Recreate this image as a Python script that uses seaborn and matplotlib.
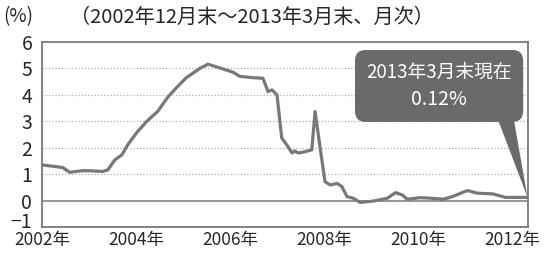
#!/usr/bin/env python3
"""
Short-term rate chart (monthly, end of Dec 2002 - end of Mar 2013)
"""

import pandas as pd
import matplotlib.pyplot as plt
from matplotlib.patches import FancyBboxPatch
from matplotlib.transforms import ScaledTranslation
import seaborn as sns

# x positions as placed on the chart's own year axis, values in %
chart_year = [2002.00, 2002.44, 2002.59, 2002.86, 2003.01, 2003.29, 2003.40, 2003.55,
              2003.70, 2003.82, 2004.01, 2004.23, 2004.46, 2004.67, 2004.86, 2005.07,
              2005.36, 2005.53, 2005.64, 2005.85, 2006.06, 2006.21, 2006.49, 2006.70,
              2006.81, 2006.89, 2007.00, 2007.10, 2007.21, 2007.32, 2007.38, 2007.45,
              2007.60, 2007.74, 2007.81, 2007.87, 2008.02, 2008.13, 2008.28, 2008.38,
              2008.49, 2008.62, 2008.77, 2009.05, 2009.35, 2009.52, 2009.67, 2009.77,
              2010.05, 2010.26, 2010.54, 2010.73, 2011.05, 2011.26, 2011.60, 2011.86,
              2012.33]
rate = [1.35, 1.25, 1.07, 1.13, 1.13, 1.10, 1.16, 1.54,
        1.73, 2.10, 2.56, 3.00, 3.37, 3.90, 4.27, 4.65,
        5.00, 5.16, 5.10, 4.98, 4.86, 4.70, 4.65, 4.63,
        4.12, 4.19, 4.00, 2.37, 2.10, 1.80, 1.88, 1.80,
        1.85, 1.92, 3.37, 2.60, 0.72, 0.59, 0.65, 0.53,
        0.15, 0.09, -0.07, -0.02, 0.09, 0.30, 0.21, 0.05,
        0.11, 0.09, 0.05, 0.15, 0.38, 0.28, 0.25, 0.12,
        0.12]

y_ticks = [-1, 0, 1, 2, 3, 4, 5, 6]
x_ticks = [2002, 2004, 2006, 2008, 2010, 2012]
x_labels = ['2002年', '2004年', '2006年', '2008年', '2010年', '2012年']

title = '（2002年12月末～2013年3月末、月次）'
unit = '(%)'
callout = '2013年3月末現在\n0.12%'

sns.set_style('white')
plt.rcParams['font.family'] = ['Noto Sans CJK JP', 'DejaVu Sans']

line_gray = '#787878'
df = pd.DataFrame({'year': chart_year, 'rate': rate})

fig = plt.figure(figsize=(5.44, 2.59), dpi=100)
ax = fig.add_axes([42 / 544, 32 / 259, 486 / 544, 185 / 259])

# grid and zero line
for v in [1, 2, 3, 4, 5]:
    ax.axhline(v, color='#b0b0b0', lw=0.9, ls=(0, (1, 1.6)), zorder=1)
ax.axhline(0, color=line_gray, lw=1.1, zorder=1)

sns.lineplot(data=df, x='year', y='rate', ax=ax, color=line_gray, lw=2.3, zorder=3)

ax.set_xlim(2002, 2012.34)
ax.set_ylim(-1, 6)
ax.set_xticks(x_ticks)
ax.set_xticklabels(x_labels)
ax.set_yticks(y_ticks)
ax.set_xlabel('')
ax.set_ylabel('')
ax.tick_params(axis='x', direction='in', length=5, width=1, color=line_gray,
               labelsize=12.5, pad=3)
ax.tick_params(axis='y', length=0, labelsize=14, pad=7)
# lift the "-1" a little so it clears the year labels
first = ax.yaxis.get_major_ticks()[0].label1
first.set_transform(first.get_transform() + ScaledTranslation(0, 5 / 72, fig.dpi_scale_trans))
for s in ax.spines.values():
    s.set_color(line_gray)
    s.set_linewidth(1.3)

# callout box
box_gray = '#6a6a6a'
ax.add_patch(FancyBboxPatch((0.644, 0.568), 0.346, 0.389,
                            boxstyle='round,pad=0,rounding_size=0.022',
                            mutation_aspect=486 / 185, transform=ax.transAxes,
                            fc=box_gray, ec='none', zorder=5))
ax.text(0.817, 0.835, callout.split('\n')[0], transform=ax.transAxes, ha='center',
        va='center', color='white', fontsize=13.5, zorder=6)
ax.text(0.817, 0.69, callout.split('\n')[1], transform=ax.transAxes, ha='center',
        va='center', color='white', fontsize=14, zorder=6)
ax.annotate('', xy=(chart_year[-1], rate[-1]), xytext=(0.955, 0.58),
            textcoords='axes fraction',
            arrowprops=dict(arrowstyle='wedge,tail_width=1.1', fc=box_gray, ec='none',
                            shrinkA=0, shrinkB=0),
            zorder=5)

fig.text(3 / 544, 1 - 17 / 259, unit, fontsize=13.5, va='center', ha='left')
fig.text(70 / 544, 1 - 17 / 259, title, fontsize=14.5, va='center', ha='left')

plt.savefig('out.png', dpi=100)
plt.close()
